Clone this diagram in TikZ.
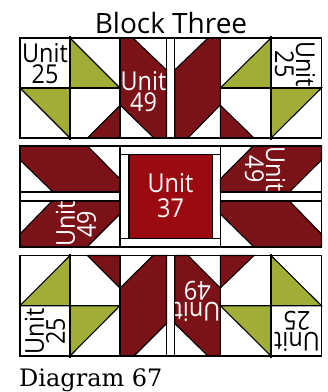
\documentclass[tikz,border=0pt]{standalone}
\usepackage{fontspec}
\setmainfont{Open Sans}
\newfontfamily\capfont{DejaVu Serif}
\newfontfamily\unitfont[FakeStretch=0.9]{Open Sans}
\definecolor{maroon}{HTML}{7A1218}
\definecolor{redc}{HTML}{9B0A10}
\definecolor{olive}{HTML}{A2AD36}
\tikzset{
  mar/.style={fill=maroon,draw=black,line width=1.1pt,line join=miter},
  oli/.style={fill=olive,draw=black,line width=1.1pt},
  grid/.style={draw=black,line width=1.3pt},
  lab/.style={font=\unitfont\fontsize{26}{21}\selectfont,align=center,inner sep=0pt,black},
  labw/.style={lab,white},
}
\begin{document}
\begin{tikzpicture}[x=1pt,y=-1pt]
\useasboundingbox (0,0) rectangle (328,392);
\fill[white] (0,0) rectangle (328,392);
% top row
\path[mar] (120,38)--(133,38)--(166.5,70)--(166.5,138)--(154,138)--(120,105)--cycle;
\path[mar] (208,38)--(220.3,38)--(220.3,105)--(188,138)--(174.7,138)--(174.7,70)--cycle;
\path[mar] (87.3,138)--(120,105.3)--(120,138)--cycle;
\path[mar] (220.3,105.3)--(254,138)--(220.3,138)--cycle;
\path[oli] (70,38)--(120,88)--(70,88)--cycle;
\path[oli] (20,88)--(70,88)--(70,138)--cycle;
\path[oli] (271,38)--(271,88)--(220.3,88)--cycle;
\path[oli] (271,88)--(321.5,88)--(271,138)--cycle;
\draw[grid] (20,38) rectangle (321.5,138);
\draw[grid] (20,88)--(120,88) (220.3,88)--(321.5,88);
\draw[grid] (70,36)--(70,140) (271,36)--(271,140);
\draw[grid] (120,38)--(120,138) (166.5,38)--(166.5,138) (174.7,38)--(174.7,138) (220.3,38)--(220.3,138);
% middle row
\path[mar] (20,146)--(87.5,146)--(120,179)--(120,192)--(53,192)--(20,160)--cycle;
\path[mar] (120,201)--(120,214)--(87,247)--(20,247)--(20,234)--(52,201)--cycle;
\path[mar] (253,146)--(321.5,146)--(321.5,160)--(289.3,192)--(220.3,192)--(220.3,179)--cycle;
\path[mar] (220.3,201)--(289.3,201)--(321.5,234)--(321.5,247)--(254,247)--(220.3,214)--cycle;
\fill[redc] (129,154.7) rectangle (212.3,238.7);
\draw[grid] (20,146) rectangle (321.5,247);
\draw[grid] (20,192)--(120,192) (20,201)--(120,201) (220.3,192)--(321.5,192) (220.3,201)--(321.5,201);
\draw[grid] (120,146)--(120,247) (220.3,146)--(220.3,247);
\draw[grid] (120,154.7)--(220.3,154.7) (120,238.7)--(220.3,238.7) (129,154.7)--(129,238.7) (212.3,154.7)--(212.3,238.7);
% bottom row
\path[mar] (87.3,255.5)--(120,255.5)--(120,288)--cycle;
\path[mar] (120,288)--(153,255.5)--(166.5,255.5)--(166.5,323.5)--(134,356)--(120,356)--cycle;
\path[mar] (174.7,255.5)--(188,255.5)--(220.3,288)--(220.3,356)--(208,356)--(174.7,323.5)--cycle;
\path[mar] (220.3,255.5)--(254,255.5)--(220.3,288)--cycle;
\path[oli] (70,255.5)--(70,305.7)--(20,305.7)--cycle;
\path[oli] (70,305.7)--(120,305.7)--(70,356)--cycle;
\path[oli] (271,255.5)--(321.5,305.7)--(271,305.7)--cycle;
\path[oli] (220.3,305.7)--(271,305.7)--(271,356)--cycle;
\draw[grid] (20,255.5) rectangle (321.5,356);
\draw[grid] (20,305.7)--(120,305.7) (220.3,305.7)--(321.5,305.7);
\draw[grid] (70,253.5)--(70,358) (271,253.5)--(271,358);
\draw[grid] (120,255.5)--(120,356) (166.5,255.5)--(166.5,356) (174.7,255.5)--(174.7,356) (220.3,255.5)--(220.3,356);
% labels
\node[inner sep=0pt,font=\fontsize{28}{28}\selectfont] (title) at (171,23) {Block Three};
\node[lab] (u1) at (45,64) {Unit\\25};
\node[lab,rotate=-90] (u2) at (295,64) {Unit\\25};
\node[labw] (u3) at (143.5,92) {Unit\\49};
\node[labw,rotate=90] (u4) at (76,224) {Unit\\49};
\node[labw,font=\unitfont\fontsize{26}{25}\selectfont] (u5) at (170.5,196) {Unit\\37};
\node[labw,rotate=-90] (u6) at (265,169) {Unit\\49};
\node[lab,rotate=90] (u7) at (45,331.5) {Unit\\25};
\node[labw,rotate=180] (u8) at (197.5,301) {Unit\\49};
\node[lab,rotate=180] (u9) at (297,331) {Unit\\25};
\node[inner sep=0pt,anchor=base west,font=\capfont\fontsize{24}{24}\selectfont] (cap) at (19,386.5) {Diagram 67};
\end{tikzpicture}
\end{document}
